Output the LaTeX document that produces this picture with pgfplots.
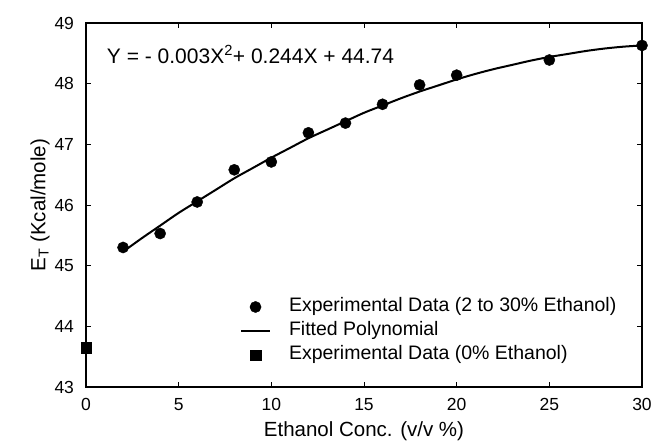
\documentclass[border=0pt]{standalone}
\usepackage{pgfplots}
\pgfplotsset{compat=1.18}
\usepackage{fontspec}
\setmainfont{Liberation Sans}

\pgfplotsset{
    dotlegend/.style={legend image code/.code={\draw[mark repeat=2,mark phase=2,#1] plot coordinates {(0pt,0pt) (14.5pt,0pt) (29pt,0pt)};}},
    linelegend/.style={legend image code/.code={\draw[#1] (0pt,0pt) -- (29pt,0pt);}},
}

\begin{document}
\begin{tikzpicture}[x=1pt,y=1pt]
% page frame to match the reference proportions
\useasboundingbox (-86,-58) rectangle (568,387);
\begin{axis}[
    at={(0,0)}, anchor=south west,
    scale only axis,
    width=556pt, height=364pt,
    xmin=0, xmax=30, ymin=43, ymax=49,
    xtick={0,5,...,30},
    ytick={43,44,...,49},
    tick align=inside,
    major tick length=5pt,
    axis line style={line width=1.3pt},
    every tick/.style={black, line width=1pt},
    ticklabel style={font=\fontsize{17.5}{20}\selectfont},
    /pgf/number format/assume math mode=true,
    xticklabel style={yshift=-7.5pt},
    yticklabel style={xshift=-8.5pt},
    xlabel={Ethanol Conc. (v/v \%)},
    ylabel={E\textsubscript{T} (Kcal/mole)},
    label style={font=\fontsize{20.5}{24}\selectfont},
    xlabel style={yshift=-4pt},
    ylabel style={yshift=-2pt},
    clip=false,
    legend cell align=left,
    legend style={
        at={(axis cs:8.3,44.52)}, anchor=north west,
        draw=none, fill=none, inner sep=0pt, row sep=0pt,
        font=\fontsize{19.5}{22}\selectfont,
        nodes={inner xsep=1pt, inner ysep=2.75pt, text height=14pt, text depth=4.5pt},
        /tikz/every odd column/.append style={column sep=17pt},
    },
]

% experimental data, 2 to 30 % ethanol
\addplot[only marks, mark=*, mark size=5.6pt, black, dotlegend]
coordinates {
    (2,45.30) (4,45.53) (6,46.05) (8,46.58) (10,46.71) (12,47.19)
    (14,47.35) (16,47.66) (18,47.98) (20,48.14) (25,48.39) (30,48.63)
};
\addlegendentry{Experimental Data (2 to 30\% Ethanol)}

% fitted polynomial
\addplot[black, line width=2pt, smooth, no marks, linelegend]
coordinates {
    (2,45.23) (3,45.45) (4,45.66) (5,45.87) (6,46.06) (7,46.25)
    (8,46.44) (9,46.61) (10,46.78) (11,46.94) (12,47.10) (13,47.24)
    (14,47.38) (15,47.52) (16,47.64) (17,47.76) (18,47.87) (19,47.97)
    (20,48.07) (21,48.16) (22,48.24) (23,48.31) (24,48.38) (25,48.44)
    (26,48.49) (27,48.54) (28,48.58) (29,48.61) (30,48.63)
};
\addlegendentry{Fitted Polynomial}

% experimental data, 0 % ethanol
\addplot[only marks, mark=square*, mark size=5.2pt, black, dotlegend]
coordinates {(0,43.65)};
\addlegendentry{Experimental Data (0\% Ethanol)}

\node[anchor=base west, inner sep=0pt, font=\fontsize{21}{24}\selectfont]
    at (axis cs:1.12,48.336) {Y = - 0.003X\textsuperscript{2}+ 0.244X + 44.74};

\end{axis}
\end{tikzpicture}
\end{document}
